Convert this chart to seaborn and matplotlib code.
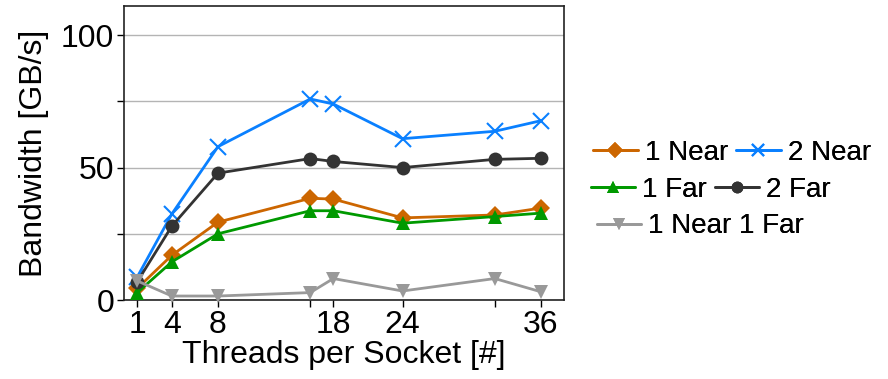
import numpy as np
import pandas as pd
import matplotlib
matplotlib.use('Agg')
import matplotlib.pyplot as plt
import seaborn as sns
from matplotlib.ticker import FixedLocator

# ── data ─────────────────────────────────────────
threads = [1, 4, 8, 16, 18, 24, 32, 36]
tick_labels = ['1', '4', '8', '', '18', '24', '', '36']

one_near = [4.4, 16.9, 29.4, 38.4, 38.1, 31.0, 32.1, 34.7]
two_near = [8.7, 32.5, 57.9, 75.9, 74.0, 60.9, 63.7, 67.7]
one_far = [2.8, 14.4, 25.0, 33.7, 33.7, 29.0, 31.5, 32.8]
two_far = [6.9, 27.9, 47.9, 53.4, 52.3, 50.0, 53.1, 53.5]
near_far = [7.2, 1.5, 1.5, 2.8, 8.1, 3.4, 8.1, 3.1]

sns.set_style('white')
plt.rcParams['font.family'] = ['Liberation Sans', 'DejaVu Sans']
plt.rcParams['text.color'] = 'black'
plt.rcParams['axes.labelcolor'] = 'black'
plt.rcParams['xtick.color'] = 'black'
plt.rcParams['ytick.color'] = 'black'

fig = plt.figure(figsize=(8.88, 3.79), dpi=100)
ax = fig.add_axes([124 / 888, 1 - 300 / 379, 440 / 888, 294 / 379])

series = [
    ('1 Near', one_near, '#cc6600', 'D', 9),
    ('2 Near', two_near, '#0a80ff', 'x', 11),
    ('1 Far', one_far, '#009900', '^', 10),
    ('2 Far', two_far, '#333333', 'o', 10),
    ('1 Near 1 Far', near_far, '#999999', 'v', 10),
]

for name, vals, col, mk, ms in series:
    sns.lineplot(x=threads, y=vals, ax=ax, color=col, marker=mk, markersize=ms,
                 markeredgecolor=col, markeredgewidth=1.5 if mk == 'x' else 0,
                 linewidth=2, label=name, clip_on=False, zorder=3)
h, l = ax.get_legend_handles_labels()
handles = dict(zip(l, h))
ax.get_legend().remove()

ax.set_xlim(-0.15, 38)
ax.set_ylim(0, 111)
ax.set_xticks(threads)
ax.set_xticklabels(tick_labels)
ax.set_yticks([0, 50, 100])
ax.yaxis.set_minor_locator(FixedLocator([25, 75]))
ax.grid(True, axis='y', which='both', color='#b4b4b4', linewidth=1)
ax.set_axisbelow(True)
ax.tick_params(axis='both', which='both', direction='out', length=5, width=1,
               labelsize=23, bottom=True, left=True, pad=2)
for s in ax.spines.values():
    s.set_color('#222222')
    s.set_linewidth(1.2)

ax.set_xlabel('Threads per Socket [#]', fontsize=23, labelpad=0)
ax.set_ylabel('Bandwidth [GB/s]', fontsize=23, labelpad=9)

# legend laid out row by row
rows = [(['1 Near', '2 Near'], 0.597, 0.668),
        (['1 Far', '2 Far'], 0.499, 0.665),
        (['1 Near 1 Far'], 0.403, 0.672)]
for names, ypos, xpos in rows:
    leg = fig.legend([handles[n] for n in names], names, ncol=2, loc='center left',
                     bbox_to_anchor=(xpos, ypos), frameon=False, fontsize=20,
                     handlelength=1.6, handletextpad=0.25, columnspacing=0.3,
                     markerscale=0.85, borderaxespad=0, borderpad=0)
    fig.add_artist(leg)

fig.savefig('out.png', dpi=100)
